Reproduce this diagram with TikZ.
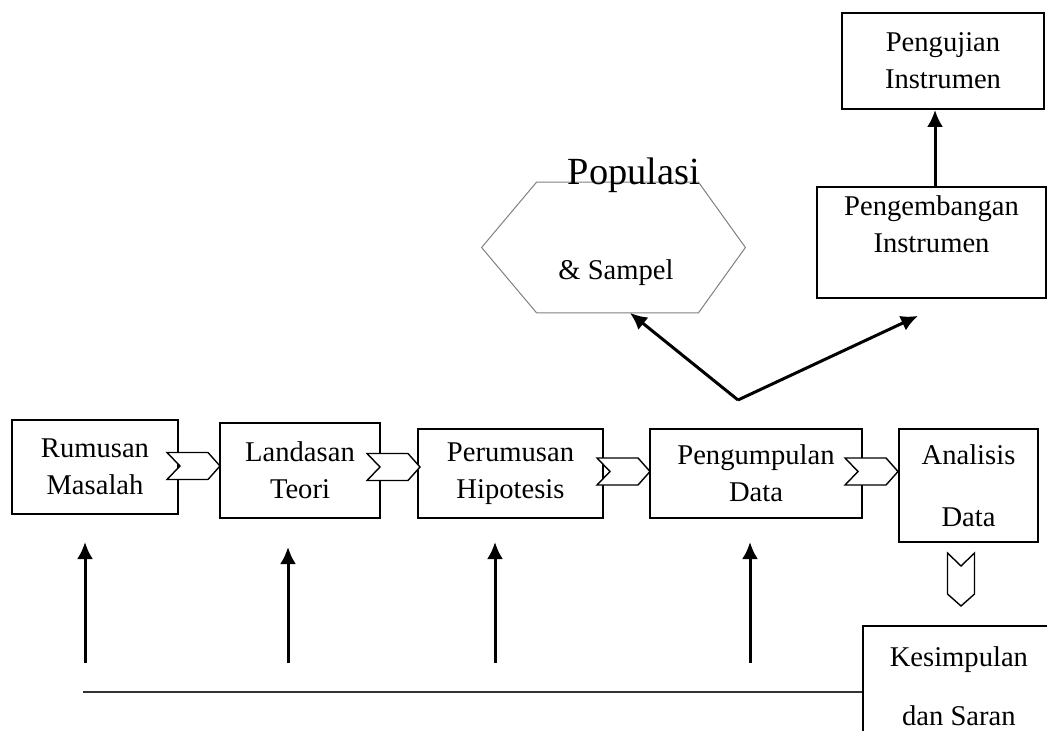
\documentclass[tikz,border=0pt]{standalone}
\usepackage{fontspec}
\setmainfont{Liberation Serif}
\usetikzlibrary{arrows.meta}

\begin{document}
\begin{tikzpicture}[x=0.5pt,y=-0.5pt]
% style des noeuds
\tikzstyle{boite} = [rectangle, draw, line width=0.9pt, align=center, inner sep=0pt, font=\fontsize{14.3}{18.5}\selectfont]
\tikzstyle{texte} = [inner sep=0pt, font=\fontsize{14.3}{18.5}\selectfont]
% style des flèches
\tikzstyle{fleche} = [-{Latex[length=8.5pt,width=8pt]}, line width=1.5pt]
\tikzstyle{trait} = [line width=0.9pt, black!80]
\tikzset{chevron/.pic={\draw[line width=0.7pt, fill=white] (0,-13.5) -- (41,-13.5) -- (53,0) -- (41,13.5) -- (0,13.5) -- (13,0) -- cycle;}}

\useasboundingbox (0,0) rectangle (1047,731);
\clip (0,0) rectangle (1047,731);

%% placement des noeuds
\node[boite, minimum width=83pt, minimum height=47pt] (rumusan) at (95,467) {Rumusan\\Masalah};
\node[boite, minimum width=80pt, minimum height=47.5pt] (landasan) at (300,470.5) {Landasan\\Teori};
\node[boite, minimum width=92.5pt, minimum height=44.5pt] (perumusan) at (510.5,473.5) {Perumusan\\Hipotesis};
\node[boite, minimum width=106pt, minimum height=44.5pt] (pengumpulan) at (756,473.5) {Pengumpulan\\Data};
\node[boite, minimum width=69.5pt, minimum height=56.5pt] (analisis) at (968.5,485.5) {Analisis\\[12.5pt]Data};
\node[boite, anchor=north west, minimum width=96pt, minimum height=60pt] (kesimpulan) at (862,625) {Kesimpulan\\[11pt]dan Saran};
\node[boite, minimum width=101pt, minimum height=48pt] (pengujian) at (943,61) {Pengujian\\Instrumen};
\node[boite, minimum width=114.5pt, minimum height=55.5pt] (pengembangan) at (931.5,242.5) {Pengembangan\\Instrumen\\\mbox{}};
%
\node[minimum width=131.5pt, minimum height=65pt, inner sep=0pt] (populasi) at (613.5,247.5) {};
\draw[gray, line width=0.5pt] (populasi.west) -- ([xshift=27.5pt]populasi.north west) -- ([xshift=-23.5pt]populasi.north east) -- (populasi.east) -- ([xshift=-23.5pt]populasi.south east) -- ([xshift=27.5pt]populasi.south west) -- cycle;
\node[texte, anchor=base, font=\fontsize{19.2}{23}\selectfont] (populasiTitre) at (634,185) {Populasi};
\node[texte, anchor=base] (sampel) at (616,280) {\& Sampel};

%% placement des flèches
\pic at (167,466) {chevron};
\pic at (367,467) {chevron};
\pic at (597,471.5) {chevron};
\pic at (845,471.5) {chevron};
\pic[rotate=-90] at (961,553) {chevron};
%
\coordinate (pivot) at (738,400);
\draw[fleche] (pivot) -- ([xshift=8.25pt]populasi.south);
\draw[fleche] (pivot) -- ([shift={(-6.75pt,-8.5pt)}]pengembangan.south);
\draw[fleche] ([xshift=1.75pt]pengembangan.north) -- ([xshift=1.75pt]pengembangan.north |- pengujian.south);
%
\foreach \i/\x/\y in {1/85/542, 2/288/547, 3/495/542, 4/750/542} {
  \coordinate (bas\i) at (\x,663);
  \coordinate (haut\i) at (\x,\y);
  \draw[fleche] (bas\i) -- (haut\i);
}
\coordinate (retour) at (83,692);
\draw[trait] (retour) -- (retour -| kesimpulan.west);
\end{tikzpicture}
\end{document}
